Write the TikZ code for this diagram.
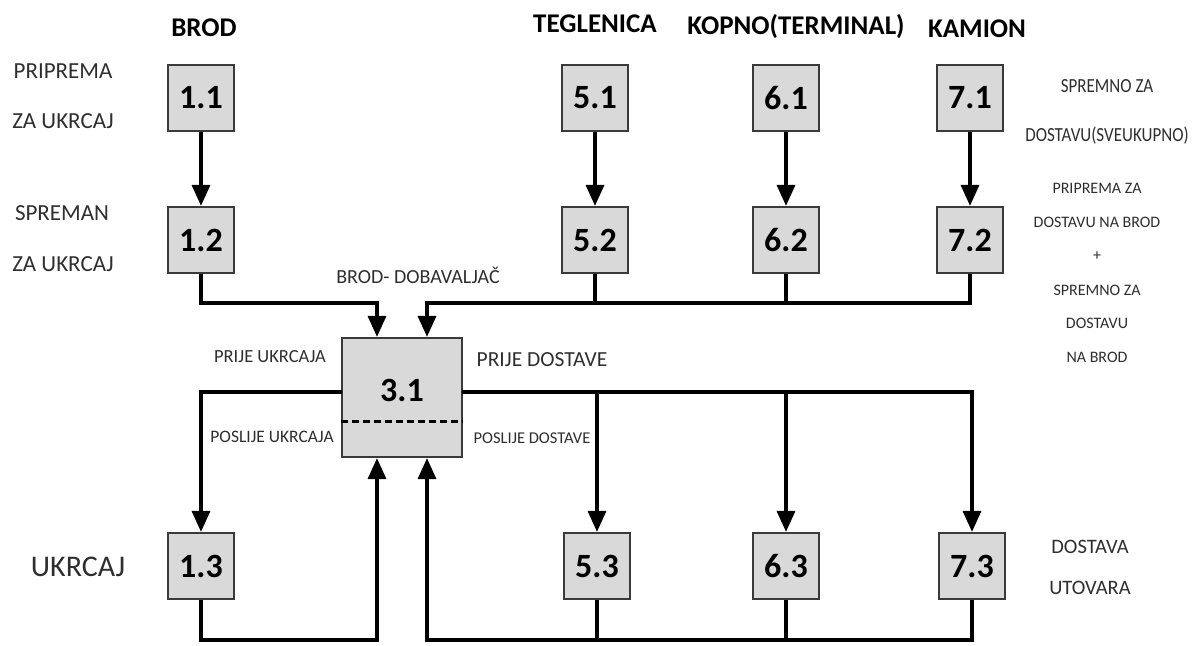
\documentclass[tikz,border=0pt]{standalone}
\usepackage{fontspec}
\setmainfont{Carlito}
\usepackage{graphicx}
\usetikzlibrary{arrows.meta}

\definecolor{boxgray}{HTML}{D9D9D9}
\definecolor{edgegray}{HTML}{3A3A3A}
\definecolor{txtgray}{HTML}{2E2E2E}

\newcommand{\fs}[1]{\fontsize{#1}{#1}\selectfont}

\begin{document}
\begin{tikzpicture}[x=1pt, y=-1pt,
  stage/.style={draw=edgegray, line width=2.2pt, fill=boxgray, minimum width=66pt, minimum height=66pt, inner sep=0pt, font=\fs{34}\bfseries},
  mode/.style={inner sep=0pt, font=\fs{27}\bfseries},
  lbl/.style={inner sep=0pt, text=txtgray, font=\fs{21}},
  note/.style={inner sep=0pt, text=txtgray, font=\fs{16}},
  link/.style={line width=3.4pt},
  flow/.style={line width=3.4pt, -{Triangle[length=21pt,width=18pt]}}]
\useasboundingbox (0,0) rectangle (1199,645);

% titles
\node[mode] (tbrod) at (204,28) {BROD};
\node[mode] (tteg) at (595,24) {TEGLENICA};
\node[mode] (tkop) at (796,27) {KOPNO(TERMINAL)};
\node[mode] (tkam) at (977,29) {KAMION};

% stages
\node[stage] (b11) at (201,98) {1.1};
\node[stage] (b12) at (201,240) {1.2};
\node[stage] (b13) at (201,566) {1.3};
\node[stage] (b51) at (595,98) {5.1};
\node[stage] (b52) at (595,240) {5.2};
\node[stage] (b53) at (597,566) {5.3};
\node[stage] (b61) at (786,98) {6.1};
\node[stage] (b62) at (786,240) {6.2};
\node[stage] (b63) at (786,566) {6.3};
\node[stage] (b71) at (970,98) {7.1};
\node[stage] (b72) at (970,240) {7.2};
\node[stage] (b73) at (972,566) {7.3};
\node[stage, minimum width=120pt, minimum height=119pt] (b31) at (402,397.5) {};
\node[font=\fs{34}\bfseries, inner sep=0pt] (n31) at (402,390) {3.1};
\draw[line width=3pt, dash pattern=on 7pt off 4pt] (b31.west |- 0,421) -- (b31.east |- 0,421);

% side labels
\node[lbl, font=\fs{23}] (l11a) at (63,71) {PRIPREMA};
\node[lbl, font=\fs{23}] (l11b) at (63,121) {ZA UKRCAJ};
\node[lbl, font=\fs{23}] (l12a) at (62,213) {SPREMAN};
\node[lbl, font=\fs{23}] (l12b) at (63,264) {ZA UKRCAJ};
\node[lbl, font=\fs{30}] (l13) at (78,567) {UKRCAJ};
\node[lbl, font=\fs{20}] (ldob) at (418,275) {BROD- DOBAVALJAČ};
\node[lbl, font=\fs{18.5}] (lpu) at (270,357) {PRIJE UKRCAJA};
\node[lbl, font=\fs{17.5}] (lpou) at (272,437) {POSLIJE UKRCAJA};
\node[lbl, font=\fs{21.5}] (lpd) at (542,360) {PRIJE DOSTAVE};
\node[lbl, font=\fs{16.5}] (lpod) at (532,438) {POSLIJE DOSTAVE};
\node[lbl, font=\fs{20}] (l71a) at (1107,86) {\scalebox{0.85}[1]{SPREMNO ZA}};
\node[lbl, font=\fs{20}] (l71b) at (1107,136) {\scalebox{0.85}[1]{DOSTAVU(SVEUKUPNO)}};
\node[note] (l72a) at (1097,188) {PRIPREMA ZA};
\node[note] (l72b) at (1097,222) {DOSTAVU NA BROD};
\node[note] (l72c) at (1097,256) {+};
\node[note] (l72d) at (1097,290) {SPREMNO ZA};
\node[note] (l72e) at (1097,323) {DOSTAVU};
\node[note] (l72f) at (1097,357) {NA BROD};
\node[lbl, font=\fs{20.5}] (l73a) at (1090,547) {DOSTAVA};
\node[lbl, font=\fs{20.5}] (l73b) at (1090,588) {UTOVARA};

% junctions
\coordinate (inl) at (377,303);
\coordinate (inr) at (427,303);
\coordinate (outl) at (377,640);
\coordinate (outr) at (427,640);
\coordinate (midl) at (342,392);
\coordinate (midr) at (462,392);

% down the columns
\draw[flow] (b11) -- (b12);
\draw[flow] (b51) -- (b52);
\draw[flow] (b61) -- (b62);
\draw[flow] (b71) -- (b72);

% into 3.1 from above
\draw[flow] (b12.south) |- (inl) -- (inl |- b31.north);
\draw[flow] (b72.south) |- (inr) -- (inr |- b31.north);
\draw[link] (b52.south) -- (b52 |- inr);
\draw[link] (b62.south) -- (b62 |- inr);

% out of 3.1
\draw[flow] (midl) -| (b13.north);
\draw[flow] (midr) -| (b73.north);
\draw[flow] (b53 |- midr) -- (b53.north);
\draw[flow] (b63 |- midr) -- (b63.north);

% back into 3.1 from below
\draw[flow] (b13.south) |- (outl) -- (outl |- b31.south);
\draw[flow] (b73.south) |- (outr) -- (outr |- b31.south);
\draw[link] (b53.south) -- (b53 |- outr);
\draw[link] (b63.south) -- (b63 |- outr);
\end{tikzpicture}
\end{document}
